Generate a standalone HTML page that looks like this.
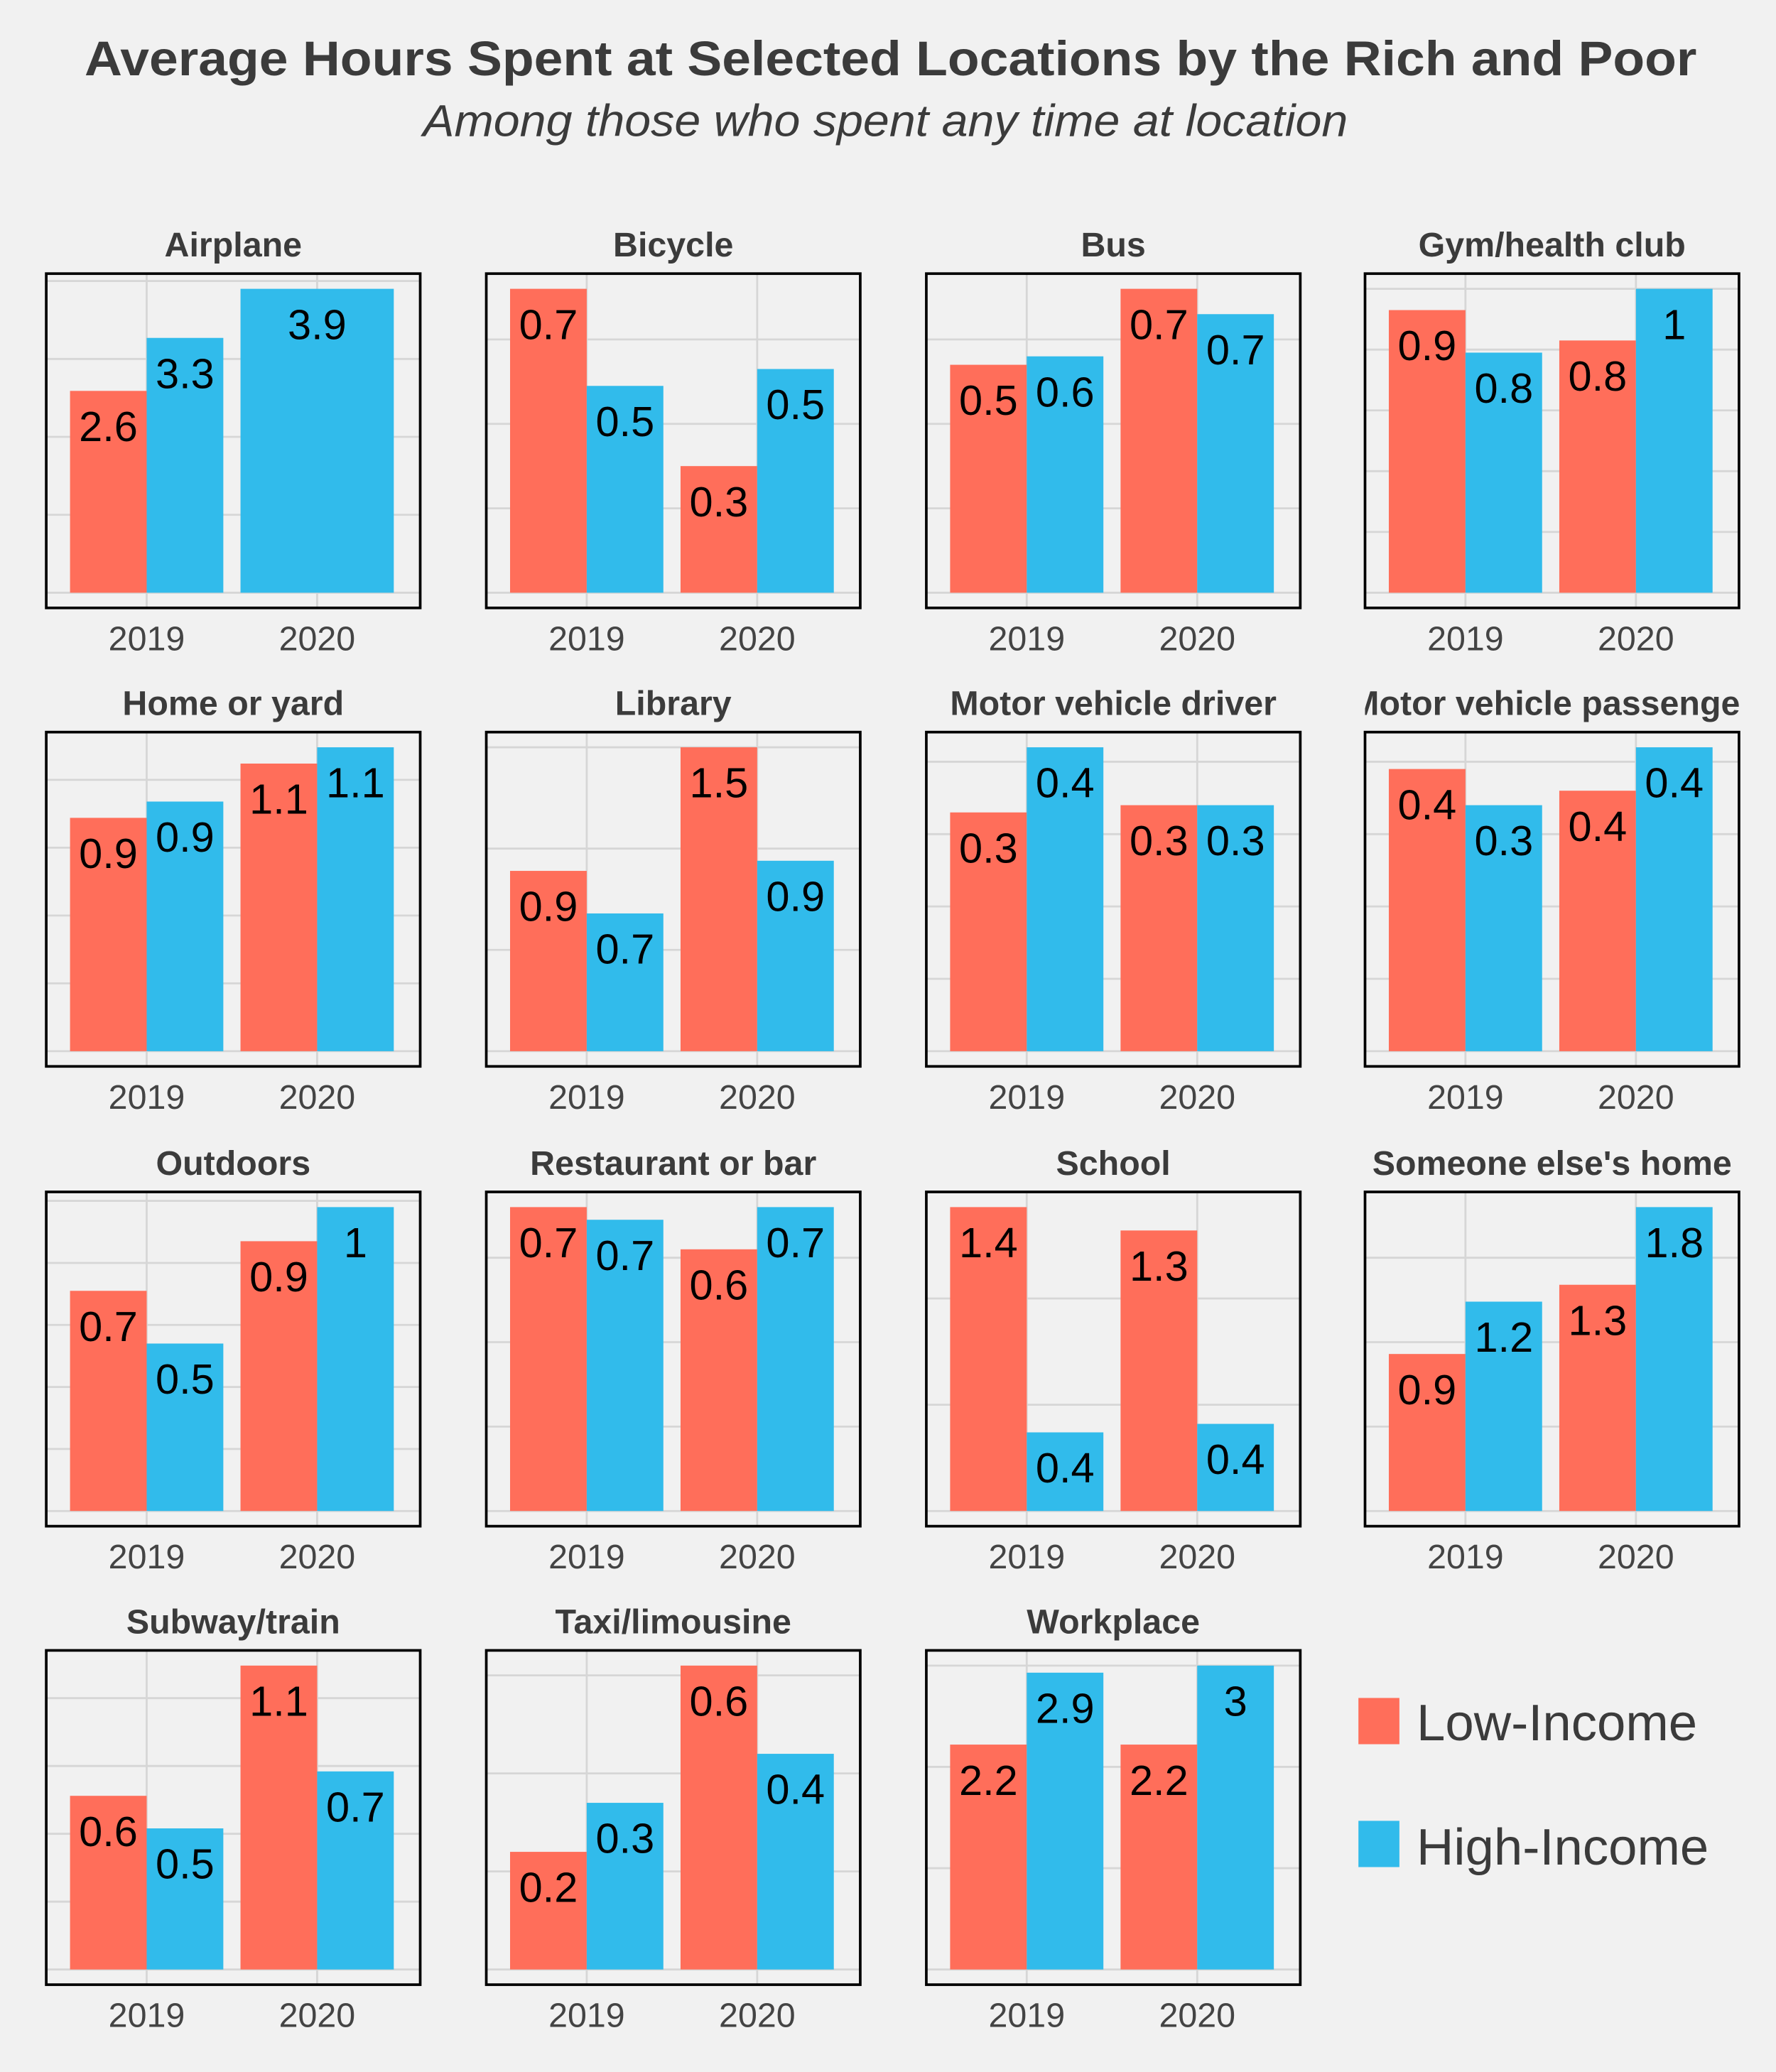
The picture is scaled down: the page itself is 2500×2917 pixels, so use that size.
<!DOCTYPE html>
<html><head><meta charset="utf-8">
<style>
html,body{margin:0;padding:0;background:#f1f1f1;}
svg{display:block;font-family:"Liberation Sans",sans-serif;}
</style></head>
<body>
<svg id="chart" width="2500" height="2917" viewBox="0 0 1344 1568" xmlns="http://www.w3.org/2000/svg">
<rect x="0" y="0" width="1344" height="1568" fill="#f1f1f1"/>
<text x="674" y="57" text-anchor="middle" font-size="37" font-weight="bold" fill="#3b3b3b" textLength="1220" lengthAdjust="spacingAndGlyphs">Average Hours Spent at Selected Locations by the Rich and Poor</text>
<text x="670" y="103" text-anchor="middle" font-size="34" font-style="italic" fill="#3b3b3b" textLength="700" lengthAdjust="spacingAndGlyphs">Among those who spent any time at location</text>
<g>
<rect x="1028" y="1285" width="31" height="35" fill="#FF6E5A"/>
<text x="1072" y="1317" font-size="39" fill="#3b3b3b">Low-Income</text>
<rect x="1028" y="1378" width="31" height="35" fill="#31BBEB"/>
<text x="1072" y="1411" font-size="39" fill="#3b3b3b">High-Income</text>
</g>
<g id="panels"></g>
</svg>
<script>
const locations = ["Airplane","Bicycle","Bus","Gym/health club","Home or yard","Library","Motor vehicle driver","Motor vehicle passenger","Outdoors","Restaurant or bar","School","Someone else's home","Subway/train","Taxi/limousine","Workplace"];
const years = ["2019","2020"];
const low2019  = [2.59,0.72,0.54,0.93,0.86,0.89,0.33,0.39,0.71,0.72,1.43,0.93,0.64,0.24,2.22];
const high2019 = [3.27,0.49,0.56,0.79,0.92,0.68,0.42,0.34,0.54,0.69,0.37,1.24,0.52,0.34,2.93];
const low2020  = [null,0.30,0.72,0.83,1.06,1.50,0.34,0.36,0.87,0.62,1.32,1.34,1.12,0.62,2.22];
const high2020 = [3.90,0.53,0.66,1.00,1.12,0.94,0.34,0.42,0.98,0.72,0.41,1.80,0.73,0.44,3.00];

const NS="http://www.w3.org/2000/svg";
const root=document.getElementById('panels');
const LOW="#FF6E5A", HIGH="#31BBEB";
const colX=[35,368,701,1033], rowY=[207,554,902,1249];
const PW=283, PH=253;
function mk(tag,attrs,parent){const e=document.createElementNS(NS,tag);for(const k in attrs)e.setAttribute(k,attrs[k]);parent.appendChild(e);return e;}
function fmt(v){return String(Math.round(v*10)/10);}
const defs=mk('defs',{},root);
locations.forEach((loc,i)=>{
  const px=colX[i%4], py=rowY[Math.floor(i/4)];
  const vals=[[low2019[i],high2019[i]],[low2020[i],high2020[i]]];
  const all=vals.flat().filter(v=>v!=null);
  const maxV=Math.max(...all);
  const top=maxV*1.05;
  const y=v=>py+PH-(v+maxV*0.05)/(maxV*1.1)*PH;
  const x=g=>px+76+g*129;
  const g=mk('g',{},root);
  
  
  const cp=mk('clipPath',{id:'cp'+i},defs);
  mk('rect',{x:px,y:py-50,width:PW,height:50},cp);
  const st=mk('text',{x:px+PW/2,y:py-13,'text-anchor':'middle','font-size':26,'font-weight':'bold',fill:'#3b3b3b','clip-path':'url(#cp'+i+')'},g);
  st.textContent=loc;
  
  
  const steps=[0.1,0.2,0.25,0.5,1,2,5];
  let step=steps.find(s=>maxV/s<=5)||5;
  for(let t=0;t<=top+1e-9;t+=step){
    const gl=mk('line',{x1:px,x2:px+PW,y1:y(t),y2:y(t),stroke:'#d6d6d6','stroke-width':1.5},g);
    
    
  }
  years.forEach((yr,k)=>{
    const vl=mk('line',{x1:x(k),x2:x(k),y1:py,y2:py+PH,stroke:'#d6d6d6','stroke-width':1.5},g);
    
    
    const [lv,hv]=vals[k];
    const bars=[];
    if(lv!=null&&hv!=null){bars.push([lv,x(k)-58,58,LOW,'low'],[hv,x(k),58,HIGH,'high']);}
    else if(lv!=null){bars.push([lv,x(k)-58,116,LOW,'low']);}
    else if(hv!=null){bars.push([hv,x(k)-58,116,HIGH,'high']);}
    bars.forEach(b=>{
      const r=mk('rect',{x:b[1],y:y(b[0]),width:b[2],height:y(0)-y(b[0]),fill:b[3]},g);
      
      
      const t=mk('text',{x:b[1]+b[2]/2,y:y(b[0])+38,'text-anchor':'middle','font-size':32,fill:'#000'},g);
      t.textContent=fmt(b[0]);
      
      
    });
    const xt=mk('text',{x:x(k),y:py+PH+32,'text-anchor':'middle','font-size':26,fill:'#444'},g);
    xt.textContent=yr;
    
    
  });
  const br=mk('rect',{x:px,y:py,width:PW,height:PH,fill:'none',stroke:'#000','stroke-width':2},g);
  
  
});
</script>
</body></html>
